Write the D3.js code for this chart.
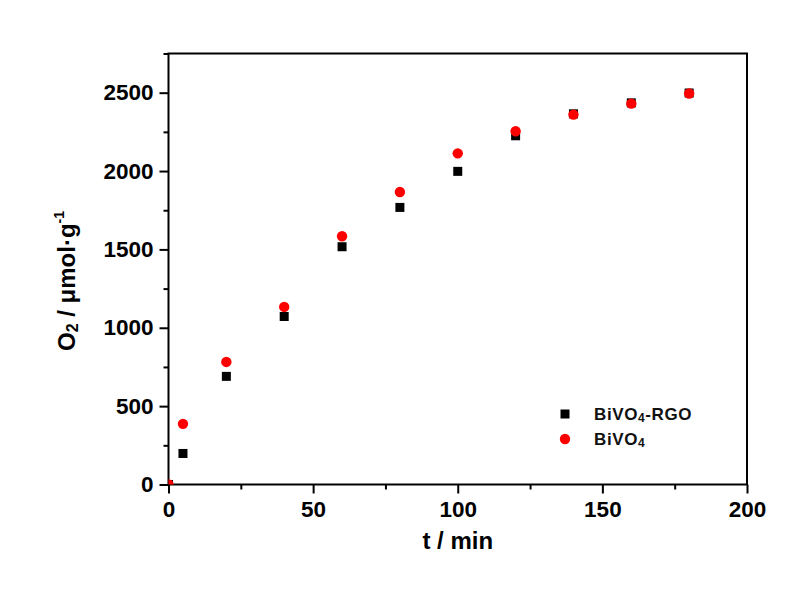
<!DOCTYPE html>
<html>
<head>
<meta charset="utf-8">
<script src="https://cdn.jsdelivr.net/npm/d3@7"></script>
<style>
  body { margin: 0; background: #fff; }
  svg { display: block; font-family: "Liberation Sans", Arial, sans-serif; }
</style>
</head>
<body>
<svg id="chart" width="801" height="590"></svg>
<script>
const WIDTH = 801;
const HEIGHT = 590;

// data
const times = [0, 5, 20, 40, 60, 80, 100, 120, 140, 160, 180];
const rgoVals = [0, 198, 690, 1072, 1517, 1768, 1998, 2225, 2365, 2435, 2498];
const bivoVals = [0, 387, 782, 1133, 1584, 1866, 2113, 2254, 2360, 2430, 2495];

const xMajor = [0, 50, 100, 150, 200];
const xMinor = [25, 75, 125, 175];
const yMajor = [0, 500, 1000, 1500, 2000, 2500];
const yMinor = [250, 750, 1250, 1750, 2250, 2750];

const PLOT = { left: 168.5, right: 747, top: 53.5, bottom: 484.5 };

const svg = d3.select("#chart").attr("viewBox", [0, 0, WIDTH, HEIGHT]);

const x = d3.scaleLinear().domain([0, 200]).range([PLOT.left, PLOT.right]);
const y = d3.scaleLinear().domain([0, 2750]).range([PLOT.bottom, PLOT.top]);

svg.append("defs").append("clipPath").attr("id", "clip")
  .append("rect")
  .attr("x", PLOT.left).attr("y", PLOT.top)
  .attr("width", PLOT.right - PLOT.left).attr("height", PLOT.bottom - PLOT.top);

// frame
svg.append("rect")
  .attr("x", PLOT.left).attr("y", PLOT.top)
  .attr("width", PLOT.right - PLOT.left).attr("height", PLOT.bottom - PLOT.top)
  .attr("fill", "none").attr("stroke", "#000").attr("stroke-width", 2);

function styleAxis(sel) {
  sel.select(".domain").remove();
  sel.selectAll("line").attr("stroke", "#000").attr("stroke-width", 2);
  sel.selectAll("text")
    .attr("fill", "#000")
    .attr("font-size", 22.5)
    .attr("font-weight", "bold");
}

// x axis
svg.append("g")
  .attr("transform", `translate(0,${PLOT.bottom})`)
  .call(d3.axisBottom(x).tickValues(xMajor).tickSize(9).tickPadding(8).tickFormat(d3.format("d")))
  .call(styleAxis);
svg.append("g")
  .attr("transform", `translate(0,${PLOT.bottom})`)
  .call(d3.axisBottom(x).tickValues(xMinor).tickSize(5).tickFormat(""))
  .call(styleAxis);

// y axis
svg.append("g")
  .attr("transform", `translate(${PLOT.left},0)`)
  .call(d3.axisLeft(y).tickValues(yMajor).tickSize(9).tickPadding(6).tickFormat(d3.format("d")))
  .call(styleAxis);
svg.append("g")
  .attr("transform", `translate(${PLOT.left},0)`)
  .call(d3.axisLeft(y).tickValues(yMinor).tickSize(5).tickFormat(""))
  .call(styleAxis);

// points
const pts = svg.append("g").attr("clip-path", "url(#clip)");
const rgo = times.map((t, i) => ({ t, v: rgoVals[i] }));
const bivo = times.map((t, i) => ({ t, v: bivoVals[i] }));

const SQ = 9;
pts.selectAll("rect.rgo")
  .data(rgo)
  .join("rect")
  .attr("class", "rgo")
  .attr("x", d => x(d.t) - SQ / 2)
  .attr("y", d => y(d.v) - SQ / 2)
  .attr("width", SQ).attr("height", SQ)
  .attr("fill", "#000");

pts.selectAll("circle.bivo")
  .data(bivo)
  .join("circle")
  .attr("class", "bivo")
  .attr("cx", d => x(d.t))
  .attr("cy", d => y(d.v))
  .attr("r", 5.2)
  .attr("fill", "#ff0000");

// axis titles
svg.append("text")
  .attr("x", (PLOT.left + PLOT.right) / 2)
  .attr("y", 549)
  .attr("text-anchor", "middle")
  .attr("font-size", 24)
  .attr("font-weight", "bold")
  .text("t / min");

const yt = svg.append("text")
  .attr("transform", "translate(75,281) rotate(-90)")
  .attr("text-anchor", "middle")
  .attr("font-size", 24)
  .attr("font-weight", "bold");
yt.append("tspan").text("O");
yt.append("tspan").attr("font-size", 16).attr("dy", 3).text("2");
yt.append("tspan").attr("dy", -3).text(" / μmol·g");
yt.append("tspan").attr("font-size", 14).attr("dy", -11).text("-1");

// legend
const legend = svg.append("g");
legend.append("rect")
  .attr("x", 565 - SQ / 2).attr("y", 414 - SQ / 2)
  .attr("width", SQ).attr("height", SQ).attr("fill", "#000");
legend.append("circle")
  .attr("cx", 565).attr("cy", 439).attr("r", 5.2).attr("fill", "#ff0000");

function legendLabel(yPos, suffix) {
  const t = legend.append("text")
    .attr("x", 594).attr("y", yPos)
    .attr("font-size", 17)
    .attr("font-weight", "bold")
    .attr("letter-spacing", 0.6)
    .attr("fill", "#111");
  t.append("tspan").text("BiVO");
  t.append("tspan").attr("font-size", 12).attr("dy", 2).text("4");
  if (suffix) t.append("tspan").attr("dy", -2).text(suffix);
}
legendLabel(420, "-RGO");
legendLabel(445, null);
</script>
</body>
</html>
